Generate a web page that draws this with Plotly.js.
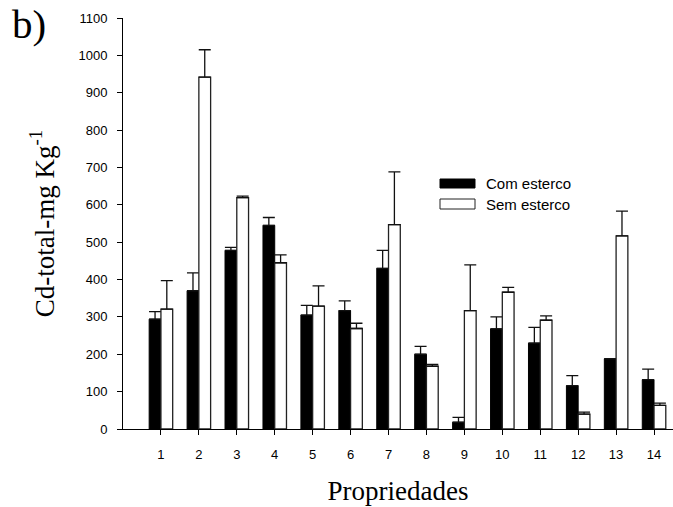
<!DOCTYPE html>
<html>
<head>
<meta charset="utf-8">
<script src="https://cdn.plot.ly/plotly-3.0.1.min.js"></script>
<style>html,body{margin:0;padding:0;background:#fff}#chart{width:673px;height:507px}</style>
</head>
<body>
<div id="chart"></div>
<script>
const categories = [1, 2, 3, 4, 5, 6, 7, 8, 9, 10, 11, 12, 13, 14];
const comEsterco = [294, 370, 478, 545, 305, 317, 430, 200, 18, 268, 230, 116, 188, 132];
const comEstercoErr = [20, 48, 8, 21, 26, 26, 48, 21, 13, 32, 42, 27, 0, 28];
const semEsterco = [321, 942, 619, 445, 329, 269, 547, 168, 317, 366, 291, 40, 517, 63];
const semEstercoErr = [76, 73, 4, 21, 54, 14, 141, 5, 122, 13, 12, 5, 66, 6];
const yTicks = [0, 100, 200, 300, 400, 500, 600, 700, 800, 900, 1000, 1100];
const seriesNames = ["Com esterco", "Sem esterco"];

const zeros = categories.map(() => 0);
const errStyle = {color: '#111', thickness: 1.3, width: 6};

const traces = [
  {
    type: 'bar', name: seriesNames[0], x: categories, y: comEsterco,
    marker: {color: '#000', line: {color: '#000', width: 1}},
    error_y: Object.assign({type: 'data', symmetric: false, array: comEstercoErr, arrayminus: zeros}, errStyle)
  },
  {
    type: 'bar', name: seriesNames[1], x: categories, y: semEsterco,
    marker: {color: '#fff', line: {color: '#222', width: 1.3}},
    error_y: Object.assign({type: 'data', symmetric: false, array: semEstercoErr, arrayminus: zeros}, errStyle)
  }
];

const serif = 'Liberation Serif, Times New Roman, serif';
const sans = 'Liberation Sans, Arial, Helvetica, sans-serif';

const layout = {
  width: 673, height: 507,
  margin: {l: 123, r: 0, t: 18, b: 78},
  paper_bgcolor: '#fff', plot_bgcolor: '#fff',
  showlegend: false,
  barmode: 'group', bargap: 0.38, bargroupgap: 0,
  font: {family: sans, size: 13, color: '#000'},
  xaxis: {
    range: [0, 14.5], tickmode: 'array', tickvals: categories, ticktext: categories.map(String),
    showgrid: false, zeroline: false, showline: true, linecolor: '#000', linewidth: 1,
    ticks: 'outside', ticklen: 5, tickcolor: '#000', tickwidth: 1, ticklabelstandoff: 8,
    tickfont: {family: sans, size: 13},
    title: {text: 'Propriedades', font: {family: serif, size: 27}, standoff: 20}
  },
  yaxis: {
    range: [0, 1100], tickmode: 'array', tickvals: yTicks, ticktext: yTicks.map(String),
    showgrid: false, zeroline: false, showline: true, linecolor: '#000', linewidth: 1,
    ticks: 'outside', ticklen: 5, tickcolor: '#000', tickwidth: 1, ticklabelstandoff: 7,
    tickfont: {family: sans, size: 13},
    title: {text: 'Cd-total-mg Kg<sup>-1</sup>', font: {family: serif, size: 27}, standoff: 16}
  },
  shapes: [
    {type: 'rect', xref: 'paper', yref: 'paper', x0: (440-123)/550, x1: (475-123)/550,
     y0: (507-78-188)/411, y1: (507-78-179)/411, fillcolor: '#000', line: {color: '#000', width: 1}},
    {type: 'rect', xref: 'paper', yref: 'paper', x0: (440-123)/550, x1: (475-123)/550,
     y0: (507-78-209)/411, y1: (507-78-199)/411, fillcolor: '#fff', line: {color: '#222', width: 1}}
  ],
  annotations: [
    {text: seriesNames[0], xref: 'paper', yref: 'paper', x: (484-123)/550, y: (507-78-184)/411,
     xanchor: 'left', yanchor: 'middle', showarrow: false, font: {family: sans, size: 15}},
    {text: seriesNames[1], xref: 'paper', yref: 'paper', x: (484-123)/550, y: (507-78-204)/411,
     xanchor: 'left', yanchor: 'middle', showarrow: false, font: {family: sans, size: 15}},
    {text: 'b)', xref: 'paper', yref: 'paper', x: -123/550, y: (507-78+1)/411,
     xanchor: 'left', yanchor: 'top', showarrow: false, font: {family: serif, size: 41}, xshift: 10}
  ]
};

Plotly.newPlot('chart', traces, layout, {staticPlot: true, displayModeBar: false});
</script>
</body>
</html>
